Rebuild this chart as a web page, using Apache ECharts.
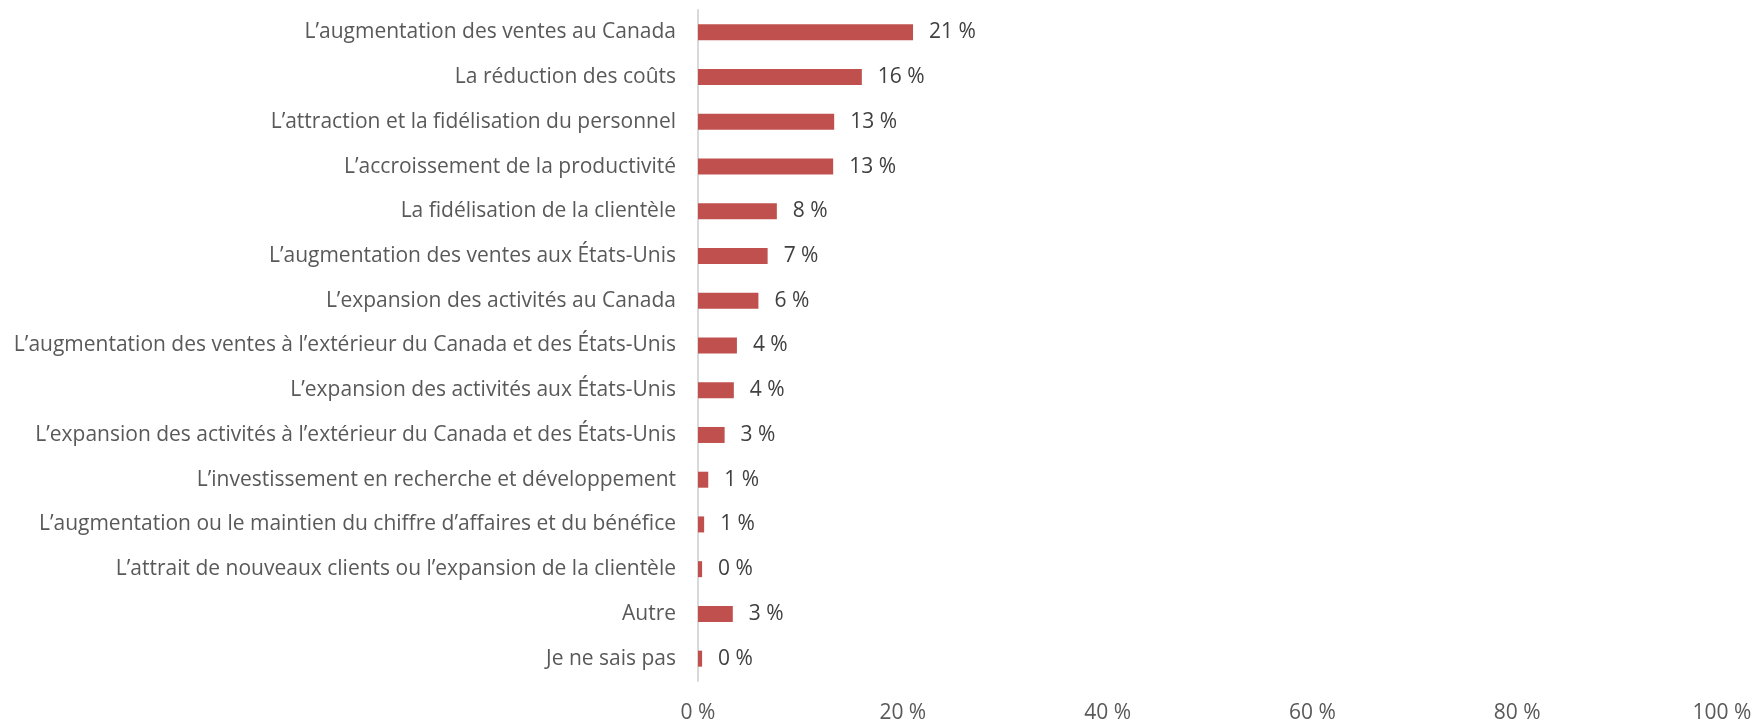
<!DOCTYPE html>
<html lang="fr">
<head>
<meta charset="UTF-8">
<title>Avantages</title>
<style>
  html, body { margin: 0; padding: 0; background: #fff; }
  #chart { width: 1762px; height: 724px; }
</style>
</head>
<body>
<div id="chart"></div>
<script src="https://cdn.jsdelivr.net/npm/echarts@6/dist/echarts.min.js"></script>
<script>
// catégories, du haut vers le bas
var categories = [
  'L\u2019augmentation des ventes au Canada',
  'La réduction des coûts',
  'L\u2019attraction et la fidélisation du personnel',
  'L\u2019accroissement de la productivité',
  'La fidélisation de la clientèle',
  'L\u2019augmentation des ventes aux États-Unis',
  'L\u2019expansion des activités au Canada',
  'L\u2019augmentation des ventes à l\u2019extérieur du Canada et des États-Unis',
  'L\u2019expansion des activités aux États-Unis',
  'L\u2019expansion des activités à l\u2019extérieur du Canada et des États-Unis',
  'L\u2019investissement en recherche et développement',
  'L\u2019augmentation ou le maintien du chiffre d\u2019affaires et du bénéfice',
  'L\u2019attrait de nouveaux clients ou l\u2019expansion de la clientèle',
  'Autre',
  'Je ne sais pas'
];
var values = [21.0, 16.0, 13.3, 13.2, 7.7, 6.8, 5.9, 3.8, 3.5, 2.6, 1.0, 0.6, 0.4, 3.4, 0.4];
var xTicks = [0, 20, 40, 60, 80, 100];

var chart = echarts.init(document.getElementById('chart'));
var font = 'Open Sans';

var option = {
  animation: false,
  grid: { left: 698, right: 40, top: 10, bottom: 39, containLabel: false },
  xAxis: {
    type: 'value',
    min: xTicks[0],
    max: xTicks[xTicks.length - 1],
    interval: 20,
    axisLine: { show: false },
    axisTick: { show: false },
    splitLine: { show: false },
    axisLabel: {
      formatter: '{value} %',
      color: '#595959',
      fontFamily: font,
      fontSize: 21,
      margin: 22
    }
  },
  yAxis: {
    type: 'category',
    inverse: true,
    data: categories,
    axisLine: { show: true, lineStyle: { color: '#d9d9d9', width: 2 } },
    axisTick: { show: false },
    axisLabel: {
      color: '#595959',
      fontFamily: font,
      fontSize: 21,
      margin: 22
    }
  },
  series: [{
    type: 'bar',
    data: values,
    barWidth: 16,
    itemStyle: { color: '#c0504d' },
    label: {
      show: true,
      position: 'right',
      distance: 16,
      color: '#404040',
      fontFamily: font,
      fontSize: 21,
      formatter: function (p) { return Math.round(p.value) + ' %'; }
    }
  }]
};

chart.setOption(option);
</script>
</body>
</html>
